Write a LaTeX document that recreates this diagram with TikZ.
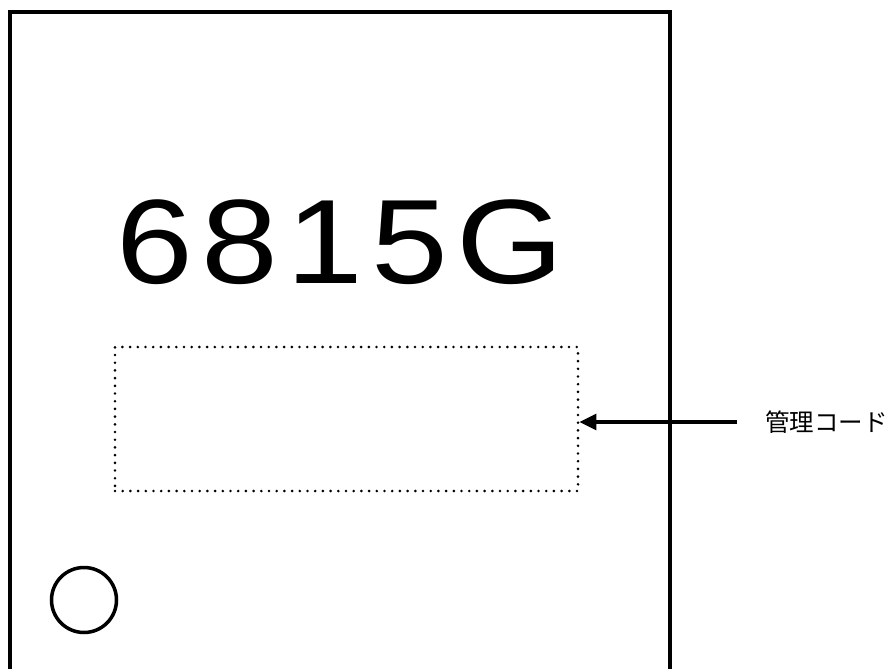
\documentclass[tikz,border=0pt]{standalone}
\usepackage{graphicx}
\usepackage{fontspec}
\setmainfont{Liberation Sans}
\newfontfamily\cjk{Noto Sans CJK JP}
\newfontfamily\codefont[LetterSpace=6]{Liberation Sans}
\usetikzlibrary{arrows.meta}
\begin{document}
\begin{tikzpicture}[x=1pt,y=-1pt,
  frame/.style={line width=3.8pt},
  dotbox/.style={draw, line width=2.9pt, line cap=round, dash pattern=on 0pt off 7.7pt,
    minimum width=463pt, minimum height=144pt, inner sep=0pt},
  hole/.style={circle, draw, line width=3.5pt, minimum size=65pt, inner sep=0pt},
  pointer/.style={line width=3.2pt, -{Triangle[length=17pt,width=16pt]}},
  codetext/.style={anchor=base west, inner sep=0pt, font=\codefont\fontsize{120}{120}\selectfont},
  labeltext/.style={anchor=west, inner sep=0pt, font=\cjk\fontsize{24.5}{26}\selectfont}]
\useasboundingbox (0,0) rectangle (892,669);
\draw[frame] (10,669) -- (10,12) -- (670,12) -- (670,669);
\node[codetext] (num) at (116,283) {\scalebox{1.15}[1]{6815G}};
\node[dotbox] (code) at (346.5,419) {};
\node[hole] (hole) at (84,600) {};
\node[labeltext] (label) at (765,422) {管理コード};
\draw[pointer, shorten <=28pt] (label.west) -- (label.west -| code.east);
\end{tikzpicture}
\end{document}
